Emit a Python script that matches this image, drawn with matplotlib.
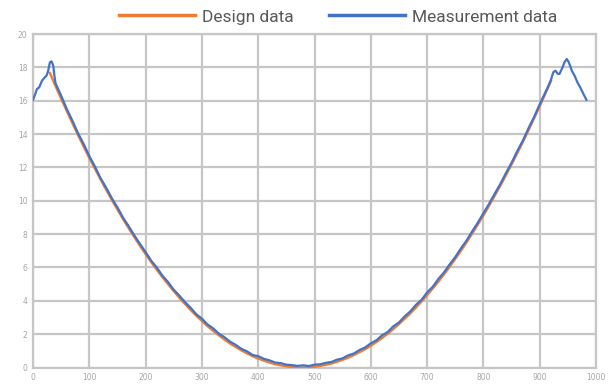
import matplotlib
matplotlib.use("Agg")
import matplotlib.pyplot as plt

# Design data
design_x = list(range(30, 930, 10))
design_y = [17.66, 16.88, 16.12, 15.38, 14.65, 13.94, 13.25, 12.57, 11.92, 11.28,
            10.66, 10.05, 9.47, 8.90, 8.35, 7.82, 7.30, 6.80, 6.32, 5.86,
            5.41, 4.99, 4.58, 4.18, 3.81, 3.45, 3.11, 2.79, 2.48, 2.20,
            1.93, 1.68, 1.44, 1.23, 1.03, 0.85, 0.68, 0.54, 0.41, 0.30,
            0.20, 0.13, 0.07, 0.03, 0.01,
            0.00, 0.01, 0.04, 0.09, 0.16, 0.24, 0.34, 0.46, 0.59, 0.75,
            0.92, 1.10, 1.31, 1.53, 1.77, 2.03, 2.31, 2.60, 2.92, 3.24,
            3.59, 3.96, 4.34, 4.74, 5.15, 5.59, 6.04, 6.51, 7.00, 7.50,
            8.03, 8.57, 9.12, 9.70, 10.29, 10.90, 11.53, 12.18, 12.84, 13.52,
            14.22, 14.94, 15.67, 16.42, 17.19]

meas_x = ([0, 4, 7, 11, 16, 21, 24, 27, 30, 33, 36, 38]
          + list(range(40, 920, 10))
          + [915, 920, 924, 928, 932, 935, 940, 944, 948, 951, 954, 957,
             962, 967, 972, 977, 983])
meas_y = ([16.05, 16.40, 16.70, 16.80, 17.20, 17.40, 17.50, 17.80, 18.30, 18.36, 18.10, 17.50]
          + [17.05, 16.30, 15.50, 14.80, 14.05, 13.40, 12.68, 12.05, 11.35, 10.78,
             10.15, 9.60, 8.98, 8.47, 7.92, 7.41, 6.92, 6.40, 5.99, 5.50,
             5.12, 4.66, 4.31, 3.92, 3.58, 3.19, 2.93, 2.58, 2.35, 2.03,
             1.82, 1.55, 1.36, 1.12, 0.97, 0.75, 0.68, 0.52, 0.43, 0.30,
             0.26, 0.17, 0.14, 0.10, 0.13, 0.09, 0.17, 0.19, 0.28, 0.33,
             0.47, 0.55, 0.73, 0.84, 1.05, 1.20, 1.45, 1.63, 1.93, 2.13,
             2.47, 2.70, 3.06, 3.36, 3.75, 4.05, 4.50, 4.84, 5.31, 5.70,
             6.18, 6.62, 7.14, 7.61, 8.16, 8.68, 9.25, 9.81, 10.42, 11.00,
             11.66, 12.27, 12.97, 13.60, 14.34, 15.02, 15.78, 16.50]
          + [16.85, 17.25, 17.70, 17.80, 17.62, 17.60, 17.95, 18.30, 18.50, 18.35, 18.10, 17.80,
             17.50, 17.10, 16.80, 16.45, 16.05])

x_ticks = list(range(0, 1001, 100))
y_ticks = list(range(0, 21, 2))

fig = plt.figure(figsize=(6.08, 3.87), dpi=100)
ax = fig.add_axes([33 / 608, 1 - 367.5 / 387, (596 - 33) / 608, (367.5 - 34) / 387])

l1, = ax.plot(design_x, design_y, color="#ED7D31", lw=1.7, zorder=3, label="Design data")
l2, = ax.plot(meas_x, meas_y, color="#4472C4", lw=1.6, zorder=4, label="Measurement data")

ax.set_xlim(0, 1000)
ax.set_ylim(0, 20)
ax.set_xticks(x_ticks)
ax.set_yticks(y_ticks)
ax.grid(True, color="#c6c6c6", lw=1.6)
ax.set_axisbelow(True)
for s in ax.spines.values():
    s.set_color("#c6c6c6")
    s.set_linewidth(1.6)
ax.tick_params(length=0, labelsize=5.5, labelcolor="#a6a6a6", pad=4)

fig.legend(handles=[l1, l2], loc="center", bbox_to_anchor=(338 / 608, 1 - 17 / 387),
           ncol=2, frameon=False, prop={"family": "Roboto", "size": 12.5},
           labelcolor="#595959", handlelength=4.4, handletextpad=0.4,
           columnspacing=2.0)
for line in fig.legends[0].get_lines():
    line.set_linewidth(2.5)

fig.savefig("out.png", dpi=100)
